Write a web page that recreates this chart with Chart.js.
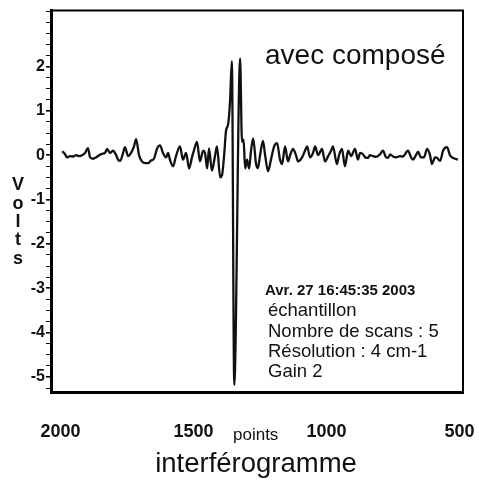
<!DOCTYPE html>
<html>
<head>
<meta charset="utf-8">
<script src="https://cdn.jsdelivr.net/npm/chart.js@4.4.1/dist/chart.umd.min.js"></script>
<style>
  html, body { margin: 0; padding: 0; background: #fff; }
  #wrap { width: 479px; height: 480px; }
</style>
</head>
<body>
<div id="wrap"><canvas id="chart"></canvas></div>
<script>
// interférogramme : position (points) / tension (Volts)
const points = [1994, 1983, 1976, 1964, 1953, 1942, 1930, 1919, 1908, 1897, 1889, 1878, 1867, 1855, 1844, 1833, 1825, 1814, 1803, 1791,
  1784, 1776, 1765, 1758, 1746, 1735, 1724, 1716, 1705, 1694, 1682, 1671, 1660, 1649, 1637, 1626, 1615, 1603, 1596, 1588,
  1577, 1566, 1551, 1540, 1528, 1517, 1506, 1494, 1487, 1476, 1464, 1457, 1449, 1442, 1431, 1419, 1412, 1400, 1393, 1385,
  1378, 1370, 1363, 1356, 1347, 1325, 1318, 1312, 1306, 1299, 1291, 1284, 1276, 1265, 1258, 1250, 1239, 1231, 1220, 1209,
  1197, 1186, 1175, 1167, 1156, 1145, 1137, 1126, 1115, 1107, 1092, 1081, 1073, 1062, 1051, 1043, 1032, 1017, 1006, 994,
  983, 976, 961, 953, 942, 931, 919, 908, 893, 882, 874, 863, 855, 844, 837, 825, 814, 799, 788, 776,
  769, 761, 750, 739, 724, 713, 694, 682, 675, 664, 656, 645, 634, 622, 611, 604, 592, 585, 573, 562,
  547, 536, 528, 517, 506];
const volts = [0.09, 0.02, -0.05, -0.02, -0.03, 0.0, -0.02, 0.0, 0.05, 0.16, -0.05, -0.08, -0.05, 0.0, 0.03, 0.05, 0.14, 0.05, 0.1, 0.0,
  -0.1, -0.13, 0.05, 0.18, -0.02, 0.05, 0.2, 0.36, 0.0, -0.14, -0.18, -0.18, -0.12, -0.08, 0.15, 0.22, 0.05, -0.05, 0.05, -0.12,
  -0.25, -0.02, 0.2, -0.1, 0.05, -0.3, -0.05, 0.2, 0.3, -0.14, 0.1, 0.05, -0.3, 0.15, -0.35, 0.0, 0.2, -0.5, -0.45, 0.0,
  0.55, 0.7, 1.2, 2.12, -5.18, 2.18, 0.3, 0.35, -0.3, -0.1, -0.3, 0.1, 0.38, -0.2, -0.29, 0.0, 0.32, 0.0, -0.36, -0.1,
  0.2, 0.27, -0.1, -0.2, 0.2, -0.14, 0.0, 0.14, 0.0, -0.14, -0.05, 0.1, 0.2, -0.05, 0.05, 0.2, 0.0, 0.14, -0.14, -0.02,
  0.1, 0.2, -0.2, 0.0, 0.14, -0.25, 0.1, -0.02, 0.14, -0.1, 0.05, 0.02, -0.05, -0.06, 0.0, -0.02, -0.04, 0.02, 0.1, -0.05,
  -0.06, 0.02, -0.03, -0.05, -0.02, -0.03, 0.1, -0.05, -0.1, 0.0, 0.08, -0.05, -0.05, 0.14, 0.0, -0.2, -0.05, -0.06, -0.13, 0.1,
  0.18, 0.0, -0.05, -0.08, -0.1];

const xTicks = [2000, 1500, 1000, 500];
const yTickLabels = [-5, -4, -3, -2, -1, 0, 1, 2];

const titleText = 'avec composé';
const infoLines = ['Avr. 27 16:45:35 2003', 'échantillon', 'Nombre de scans : 5', 'Résolution : 4 cm-1', 'Gain 2'];
const yTitle = 'Volts';
const xUnit = 'points';
const xTitle = 'interférogramme';

Chart.defaults.font.family = "'Liberation Sans', Arial, sans-serif";
Chart.defaults.color = '#000';

// cadre haut/droite + textes libres
const frameText = {
  id: 'frameText',
  afterDraw(chart) {
    const ctx = chart.ctx;
    const a = chart.chartArea;
    ctx.save();
    ctx.strokeStyle = '#000';
    ctx.lineWidth = 2;
    ctx.beginPath();
    ctx.moveTo(a.left, a.top);
    ctx.lineTo(a.right, a.top);
    ctx.lineTo(a.right, a.bottom);
    ctx.stroke();

    ctx.fillStyle = '#111';
    ctx.textBaseline = 'alphabetic';
    ctx.textAlign = 'left';
    ctx.font = "28px 'Liberation Sans', Arial, sans-serif";
    ctx.fillText(titleText, 265, 64);

    const base = [295, 316, 337, 357, 377];
    infoLines.forEach((t, i) => {
      ctx.font = i === 0 ? "bold 15px 'Liberation Sans', Arial, sans-serif" : "18.5px 'Liberation Sans', Arial, sans-serif";
      ctx.fillText(t, i === 0 ? 265 : 268, base[i]);
    });

    ctx.font = "17px 'Liberation Sans', Arial, sans-serif";
    ctx.fillText(xUnit, 233, 440);

    ctx.textAlign = 'center';
    ctx.font = "27.5px 'Liberation Sans', Arial, sans-serif";
    ctx.fillText(xTitle, 256, 472);

    ctx.font = "bold 18px 'Liberation Sans', Arial, sans-serif";
    const ly = [190, 209, 227, 245, 264];
    yTitle.split('').forEach((c, i) => ctx.fillText(c, 18, ly[i]));
    ctx.restore();
  }
};

new Chart(document.getElementById('chart'), {
  type: 'line',
  data: {
    datasets: [{
      data: points.map((p, i) => ({ x: p, y: volts[i] })),
      borderColor: '#111',
      borderWidth: 2.3,
      pointRadius: 0,
      cubicInterpolationMode: 'monotone',
      fill: false
    }]
  },
  options: {
    responsive: true,
    maintainAspectRatio: false,
    animation: false,
    layout: { padding: { left: 0, right: 16, top: 10, bottom: 0 } },
    plugins: {
      legend: { display: false },
      tooltip: { enabled: false }
    },
    scales: {
      x: {
        type: 'linear',
        reverse: true,
        min: 487,
        max: 2036,
        afterFit(scale) {
          scale.height = 88;
          scale.paddingLeft = 0;
          scale.paddingRight = 0;
        },
        afterBuildTicks(scale) { scale.ticks = xTicks.map(v => ({ value: v })); },
        grid: { display: false, drawTicks: false },
        border: { display: true, color: '#000', width: 3 },
        ticks: {
          padding: 29,
          maxRotation: 0,
          autoSkip: false,
          font: { size: 18, weight: 'bold' },
          color: '#111',
          callback: v => String(v)
        }
      },
      y: {
        min: -5.34,
        max: 3.26,
        afterFit(scale) { scale.width = 51; },
        grid: {
          drawOnChartArea: false,
          drawTicks: true,
          tickLength: 5,
          color: '#000',
          lineWidth: ctx => (yTickLabels.includes(ctx.tick && ctx.tick.value) ? 1.6 : 1)
        },
        border: { display: true, color: '#000', width: 3 },
        ticks: {
          stepSize: 0.25,
          includeBounds: false,
          autoSkip: false,
          padding: 1,
          font: { size: 16, weight: 'bold' },
          color: '#111',
          callback: v => (yTickLabels.includes(v) ? String(v) : '')
        }
      }
    }
  },
  plugins: [frameText]
});
</script>
</body>
</html>
